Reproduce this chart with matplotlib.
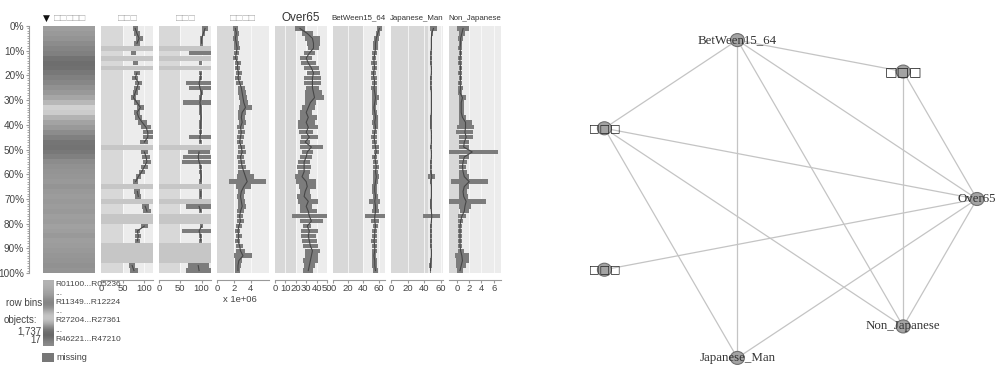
import numpy as np
import matplotlib
matplotlib.use("Agg")
import matplotlib.pyplot as plt
from matplotlib.patches import Ellipse, Rectangle

plt.rcParams['font.family'] = ['Liberation Sans', 'DejaVu Sans']

nan = np.nan
N = 50  # row bins shown (2% each)

# sort key column (gray level per row bin)
key_gray = [0.62, 0.60, 0.58, 0.55, 0.52, 0.50, 0.45, 0.43, 0.44, 0.47,
            0.50, 0.53, 0.57, 0.60, 0.65, 0.72, 0.82, 0.80, 0.70, 0.64,
            0.60, 0.55, 0.50, 0.46, 0.45, 0.47, 0.50, 0.55, 0.57, 0.58,
            0.59, 0.60, 0.58, 0.60, 0.61, 0.60, 0.61, 0.60, 0.62, 0.61,
            0.63, 0.62, 0.60, 0.62, 0.61, 0.60, 0.59, 0.58, 0.57, 0.58]

col2_mean = [79, 83, 88, 83, nan, 75, nan, 79, nan, 83,
             79, 87, 83, 79, 75, 83, 91, 83, 87, 95,
             104, 108, 108, 100, nan, 100, 104, 106, 100, 94,
             86, 80, nan, 84, 86, nan, 102, 106, nan, nan,
             100, 84, 86, 84, nan, nan, nan, nan, 72, 76]
col2_spread = [6, 7, 8, 7, nan, 6, nan, 6, nan, 7,
               7, 8, 8, 6, 6, 8, 9, 8, 8, 10,
               12, 12, 11, 9, nan, 8, 9, 10, 8, 7,
               6, 6, nan, 7, 7, nan, 8, 9, nan, nan,
               8, 6, 7, 6, nan, nan, nan, nan, 7, 9]

col3_mean = [108, 104, 100, 100, nan, 96, nan, 98, nan, 98,
             98, 94, 96, 100, 98, 96, 98, 98, 99, 98,
             98, 98, 96, 97, nan, 94, 92, 94, 98, 98,
             99, 98, nan, 98, 98, nan, 94, 98, nan, nan,
             100, 94, 98, 98, nan, nan, nan, nan, 92, 94]
col3_spread = [6, 4, 3, 3, nan, 25, nan, 3, nan, 3,
               3, 30, 26, 3, 3, 40, 3, 3, 3, 3,
               3, 4, 25, 4, nan, 25, 35, 40, 4, 3,
               3, 3, nan, 3, 3, nan, 30, 4, nan, nan,
               4, 40, 3, 3, nan, nan, nan, nan, 25, 30]

col4_mean = [2.2, 2.3, 2.2, 2.3, 2.4, 2.3, 2.2, 2.5, 2.4, 2.6,
             2.5, 2.7, 2.9, 3.0, 3.1, 3.2, 3.4, 3.0, 2.9, 3.0,
             2.8, 2.9, 2.8, 2.7, 2.9, 3.0, 2.8, 2.9, 3.0, 3.2,
             3.4, 3.6, 3.2, 2.9, 2.8, 2.9, 3.0, 2.8, 2.7, 2.8,
             2.6, 2.5, 2.6, 2.5, 2.7, 2.8, 3.1, 2.6, 2.5, 2.5]  # x 1e6
col4_spread = [0.3, 0.3, 0.3, 0.3, 0.35, 0.3, 0.3, 0.35, 0.3, 0.35,
               0.35, 0.4, 0.45, 0.5, 0.45, 0.5, 0.8, 0.45, 0.4, 0.4,
               0.4, 0.45, 0.4, 0.35, 0.4, 0.45, 0.4, 0.45, 0.5, 0.7,
               1.0, 2.2, 0.9, 0.45, 0.4, 0.45, 0.5, 0.4, 0.35, 0.4,
               0.35, 0.3, 0.35, 0.3, 0.4, 0.5, 1.1, 0.4, 0.35, 0.3]

over65_mean = [24, 31, 36, 37, 37, 33, 30, 32, 35, 37,
               36, 36, 36, 37, 38, 34, 32, 30, 32, 30,
               32, 30, 33, 29, 35, 31, 30, 28, 28, 28,
               26, 30, 31, 29, 28, 32, 30, 32, 33, 35,
               31, 33, 32, 33, 34, 36, 35, 34, 33, 32]
over65_spread = [5, 5.5, 7, 6.5, 5.5, 5, 5.5, 7, 7, 6.5,
                 8, 8, 6.5, 8, 9.5, 5.5, 6.5, 5.5, 8, 8,
                 9.5, 6.5, 8, 5, 11, 5.5, 5.5, 5.5, 7, 5.5,
                 6.5, 9.5, 8, 5, 6.5, 9.5, 5.5, 8, 17, 11,
                 4, 8, 7, 7, 7, 7, 6.5, 7, 5.5, 5]

between_mean = [61, 59, 57, 56, 56, 55, 54, 54, 55, 53,
                54, 55, 54, 55, 56, 55, 54, 55, 56, 55,
                56, 55, 54, 55, 56, 57, 55, 56, 57, 56,
                57, 56, 55, 55, 56, 55, 56, 56, 55, 55,
                56, 55, 55, 54, 55, 55, 54, 55, 55, 56]
between_spread = [3, 3, 3.5, 3, 3, 3.5, 3, 4, 3.5, 3,
                  3.5, 3, 3.5, 3, 4, 3.5, 3, 3, 3.5, 4,
                  3.5, 3, 3.5, 3, 4, 3.5, 3, 3.5, 4, 3.5,
                  4, 3.5, 3, 3.5, 3, 7, 3.5, 5, 13, 5,
                  3.5, 3, 3, 3.5, 3, 3.5, 3, 3, 3.5, 3]

jman_mean = [51, 49, 48.5, 48.5, 48.5, 48, 48, 48, 48.5, 48.5,
             48, 48, 48, 48.5, 48.5, 48.5, 48.5, 48.5, 48, 48,
             48, 48.5, 48.5, 48.5, 48, 48.5, 48.5, 48, 48, 48,
             49, 48, 48.5, 48.5, 48.5, 48, 48, 48.5, 49, 48.5,
             48, 48, 48, 48, 48, 48.5, 48.5, 48, 47.5, 47.5]
jman_spread = [4, 1.5, 0.8, 0.8, 0.8, 0.8, 0.8, 0.8, 0.8, 0.8,
               0.8, 0.8, 0.8, 0.8, 0.8, 0.8, 0.8, 0.8, 0.8, 0.8,
               0.8, 0.8, 0.8, 0.8, 0.8, 0.8, 0.8, 0.8, 0.8, 0.8,
               4, 0.8, 0.8, 0.8, 0.8, 0.8, 0.8, 0.8, 10, 0.8,
               0.8, 0.8, 0.8, 0.8, 0.8, 0.8, 0.8, 0.8, 1.5, 0.8]

nj_mean = [1.0, 0.8, 0.6, 0.6, 0.5, 0.6, 0.5, 0.5, 0.6, 0.5,
           0.6, 0.5, 0.6, 0.5, 0.9, 0.7, 0.7, 0.7, 0.9, 1.4,
           1.4, 1.3, 1.5, 1.2, 1.1, 2.5, 1.2, 1.0, 0.9, 1.0,
           1.2, 2.0, 1.2, 1.0, 1.1, 1.5, 1.3, 1.2, 0.8, 0.6,
           0.5, 0.5, 0.5, 0.5, 0.5, 0.6, 0.8, 0.9, 0.7, 0.5]
nj_spread = [1.0, 0.5, 0.4, 0.3, 0.3, 0.3, 0.3, 0.3, 0.3, 0.3,
             0.3, 0.3, 0.4, 0.3, 0.6, 0.4, 0.4, 0.4, 0.5, 1.0,
             1.4, 1.4, 1.2, 0.8, 0.8, 4.2, 0.8, 0.6, 0.5, 0.6,
             0.8, 3.0, 0.8, 0.6, 0.7, 3.2, 1.0, 0.7, 0.6, 0.4,
             0.3, 0.3, 0.3, 0.3, 0.3, 0.5, 1.2, 1.1, 0.8, 0.5]

col_titles = ["□□□□□", "□□□", "□□□", "□□□□", "Over65", "BetWeen15_64", "Japanese_Man", "Non_Japanese"]
legend_labels = ["R01100...R05236", "...", "R11349...R12224", "...", "R27204...R27361", "...", "R46221...R47210"]
legend_gray = [0.70, 0.66, 0.60, 0.48, 0.62, 0.82, 0.70, 0.45, 0.38, 0.55]
n_objects = "1,737"
per_bin = "17"

net_nodes = ["Over65", "□□□", "BetWeen15_64", "□□□", "□□□", "Japanese_Man", "Non_Japanese"]
net_edges = [(2, 1), (2, 3), (2, 5), (2, 6), (2, 0), (1, 0), (1, 6),
             (3, 0), (3, 6), (3, 5), (4, 0), (0, 5), (0, 6)]

W, H = 1000, 365
fig = plt.figure(figsize=(10, 3.65), dpi=100)


def box(x, y, w, h):
    return fig.add_axes([x / W, 1 - (y + h) / H, w / W, h / H])


def ftxt(x, y, s, **kw):
    return fig.text(x / W, 1 - y / H, s, **kw)


TXT = '#444444'
rows = np.arange(N)

# numeric columns: (mean, spread, xlim, ticks, tick labels, shade limit)
cols = [
    (col2_mean, col2_spread, (0, 120), [0, 50, 100], ["0", "50", "100"], 50),
    (col3_mean, col3_spread, (0, 122), [0, 50, 100], ["0", "50", "100"], 50),
    (col4_mean, col4_spread, (0, 6.2), [0, 2, 4], ["0", "2", "4"], 2),
    (over65_mean, over65_spread, (0, 50), [0, 10, 20, 30, 40, 50], ["0", "10", "20", "30", "40", "50"], 20),
    (between_mean, between_spread, (0, 68.5), [0, 20, 40, 60], ["0", "20", "40", "60"], 40),
    (jman_mean, jman_spread, (0, 62.5), [0, 20, 40, 60], ["0", "20", "40", "60"], 45),
    (nj_mean, nj_spread, (-1.3, 7.2), [0, 2, 4, 6], ["0", "2", "4", "6"], 0.4),
]

# sort key column
ax = box(43, 26, 52, 247)
ax.barh(rows, 1, left=0, height=1, align='edge', color=[str(g) for g in key_gray])
ax.set_xlim(0, 1)
ax.set_ylim(N, 0)
for s in ['top', 'right', 'bottom']:
    ax.spines[s].set_visible(False)
ax.spines['left'].set_position(('outward', 10))
ax.spines['left'].set_color('#999999')
ax.set_xticks([])
ax.set_yticks(np.arange(0, N + 1, 5))
ax.set_yticklabels([f"{p}%" for p in range(0, 101, 10)])
ax.set_yticks(np.arange(0, N + 0.1, 0.5), minor=True)
ax.tick_params(axis='y', which='major', length=2.5, labelsize=7.2, labelcolor=TXT, color='#999999', pad=1)
ax.tick_params(axis='y', which='minor', length=1.5, color='#999999')
ftxt(46, 18, "▼", ha='center', va='center', fontsize=6.5, color='#111111', family='DejaVu Sans')
ftxt(70, 18, col_titles[0], ha='center', va='center', fontsize=7.5, color='#aaaaaa')

for i, (mean, sp, xl, ticks, tlabels, band) in enumerate(cols):
    mean = np.array(mean, dtype=float)
    sp = np.array(sp, dtype=float)
    x0 = 101 + 58 * i
    ax = box(x0, 26, 52, 247)
    ax.set_facecolor('#ececec')
    ax.axvspan(xl[0], band, color='#d8d8d8', lw=0, zorder=0)
    for t in ticks[1:]:
        ax.axvline(t, color='white', lw=0.6, alpha=0.8, zorder=0.5)
    miss = np.isnan(mean)
    ax.barh(rows[miss], xl[1] - xl[0], left=xl[0], height=1, align='edge',
            color='#c6c6c6', zorder=1)
    ok = ~miss
    ax.barh(rows[ok] + 0.05, 2 * sp[ok], left=mean[ok] - sp[ok], height=0.9,
            align='edge', color='#7c7c7c', zorder=2)
    ax.plot(mean, rows + 0.5, color='#474747', lw=0.8, zorder=3)
    ax.set_xlim(*xl)
    ax.set_ylim(N, 0)
    for s in ['top', 'right', 'left']:
        ax.spines[s].set_visible(False)
    ax.spines['bottom'].set_position(('outward', 5))
    ax.spines['bottom'].set_color('#999999')
    ax.set_yticks([])
    ax.set_xticks(ticks)
    ax.set_xticklabels(tlabels)
    ax.tick_params(axis='x', length=2, labelsize=6.8, labelcolor=TXT, color='#999999', pad=1)
    title = col_titles[i + 1]
    if title.startswith("□"):
        ftxt(x0 + 26, 18, title, ha='center', va='center', fontsize=7.5, color='#aaaaaa')
    elif title == "Over65":
        ftxt(x0 + 26, 18, title, ha='center', va='center', fontsize=8.5, color='#333333')
    else:
        ftxt(x0 + 26, 18, title, ha='center', va='center', fontsize=5.7, color='#333333')

ftxt(240, 299, "x 1e+06", ha='center', va='center', fontsize=6.8, color=TXT)

# legend
ftxt(6, 303, "row bins", ha='left', va='center', fontsize=7, color=TXT)
ftxt(4, 320, "objects:", ha='left', va='center', fontsize=7, color=TXT)
ftxt(41, 331, n_objects, ha='right', va='center', fontsize=7, color=TXT)
ftxt(41, 340, per_bin, ha='right', va='center', fontsize=7, color=TXT)
lax = box(43, 280, 11, 66)
lax.imshow(np.array(legend_gray)[:, None], cmap='gray', vmin=0, vmax=1,
           aspect='auto', interpolation='bicubic')
lax.axis('off')
for k, lab in enumerate(legend_labels):
    ftxt(55, 284 + k * 9.2, lab, ha='left', va='center', fontsize=6.0, color=TXT)
fig.patches.append(Rectangle((42 / W, 1 - 362 / H), 12 / W, 9 / H, transform=fig.transFigure,
                             facecolor='#777777', edgecolor='none'))
ftxt(56, 357, "missing", ha='left', va='center', fontsize=6.5, color=TXT)

# network (circular layout)
nax = box(560, 0, 440, 365)
nax.set_xlim(560, 1000)
nax.set_ylim(365, 0)
nax.axis('off')
cx, cy, rx, ry = 781, 199, 196, 163
ang = 2 * np.pi * np.arange(len(net_nodes)) / len(net_nodes)
nx = cx + rx * np.cos(ang)
ny = cy - ry * np.sin(ang)
for a, b in net_edges:
    nax.plot([nx[a], nx[b]], [ny[a], ny[b]], color='#c4c4c4', lw=0.9, zorder=1)
for k, name in enumerate(net_nodes):
    nax.add_patch(Ellipse((nx[k], ny[k]), 14, 13, facecolor='#a3a3a3',
                          edgecolor='#707070', lw=0.8, zorder=2))
    if name.startswith("□"):
        fs = 9.5 if k == 1 else 8
        nax.text(nx[k], ny[k], name, ha='center', va='center', fontsize=fs,
                 family='DejaVu Sans', color='#222222', zorder=3)
    else:
        nax.text(nx[k], ny[k], name, ha='center', va='center', fontsize=9.3,
                 family='Liberation Serif', color='#333333', zorder=3)

fig.savefig('out.png', dpi=100)
